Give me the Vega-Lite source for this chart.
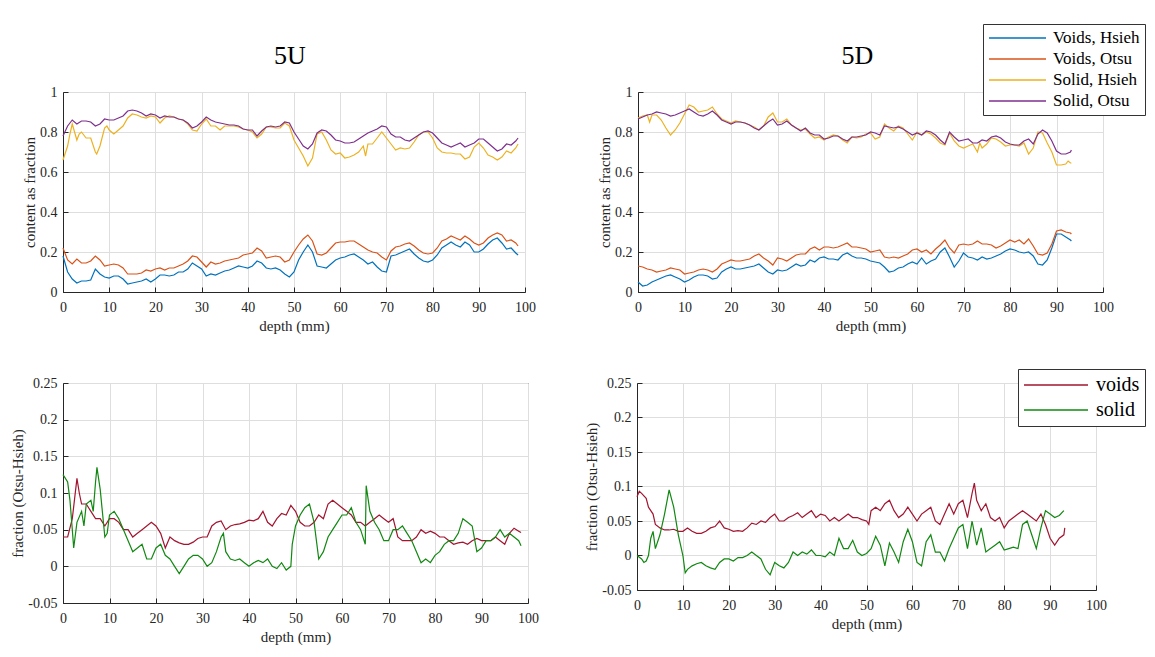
{
  "$schema": "https://vega.github.io/schema/vega-lite/v6.json",
  "background": "white",
  "padding": {"left": 10, "top": 23, "right": 5, "bottom": 5},
  "datasets": {
    "tl": [
      {"d":0,"Voids, Hsieh":0.18,"Voids, Otsu":0.22,"Solid, Hsieh":0.66,"Solid, Otsu":0.78},
      {"d":1,"Voids, Hsieh":0.10,"Voids, Otsu":0.16,"Solid, Hsieh":0.73,"Solid, Otsu":0.83},
      {"d":1.5,"Solid, Hsieh":0.79},
      {"d":2,"Voids, Hsieh":0.065,"Voids, Otsu":0.14,"Solid, Hsieh":0.84,"Solid, Otsu":0.86},
      {"d":2.5,"Solid, Hsieh":0.80},
      {"d":3,"Voids, Hsieh":0.045,"Voids, Otsu":0.165,"Solid, Hsieh":0.76,"Solid, Otsu":0.84},
      {"d":3.5,"Solid, Hsieh":0.79},
      {"d":4,"Voids, Hsieh":0.055,"Voids, Otsu":0.145,"Solid, Hsieh":0.80,"Solid, Otsu":0.855},
      {"d":5,"Voids, Hsieh":0.055,"Voids, Otsu":0.145,"Solid, Hsieh":0.77,"Solid, Otsu":0.855},
      {"d":6,"Voids, Hsieh":0.06,"Voids, Otsu":0.155,"Solid, Hsieh":0.77,"Solid, Otsu":0.85},
      {"d":7,"Voids, Hsieh":0.115,"Voids, Otsu":0.18,"Solid, Hsieh":0.70,"Solid, Otsu":0.83},
      {"d":7.3,"Solid, Hsieh":0.69},
      {"d":8,"Voids, Hsieh":0.09,"Voids, Otsu":0.16,"Solid, Hsieh":0.73,"Solid, Otsu":0.84},
      {"d":9,"Voids, Hsieh":0.075,"Voids, Otsu":0.13,"Solid, Hsieh":0.82,"Solid, Otsu":0.865},
      {"d":9.5,"Solid, Hsieh":0.83},
      {"d":10,"Voids, Hsieh":0.07,"Voids, Otsu":0.135,"Solid, Hsieh":0.81,"Solid, Otsu":0.86},
      {"d":11,"Voids, Hsieh":0.08,"Voids, Otsu":0.14,"Solid, Hsieh":0.79,"Solid, Otsu":0.86},
      {"d":12,"Voids, Hsieh":0.08,"Voids, Otsu":0.135,"Solid, Hsieh":0.81,"Solid, Otsu":0.87},
      {"d":13,"Voids, Hsieh":0.065,"Voids, Otsu":0.12,"Solid, Hsieh":0.83,"Solid, Otsu":0.88},
      {"d":14,"Voids, Hsieh":0.04,"Voids, Otsu":0.09,"Solid, Hsieh":0.87,"Solid, Otsu":0.905},
      {"d":15,"Voids, Hsieh":0.045,"Voids, Otsu":0.09,"Solid, Hsieh":0.89,"Solid, Otsu":0.91},
      {"d":16,"Voids, Hsieh":0.05,"Voids, Otsu":0.09,"Solid, Hsieh":0.885,"Solid, Otsu":0.905},
      {"d":17,"Voids, Hsieh":0.055,"Voids, Otsu":0.095,"Solid, Hsieh":0.875,"Solid, Otsu":0.895},
      {"d":18,"Voids, Hsieh":0.065,"Voids, Otsu":0.11,"Solid, Hsieh":0.87,"Solid, Otsu":0.88},
      {"d":19,"Voids, Hsieh":0.05,"Voids, Otsu":0.105,"Solid, Hsieh":0.88,"Solid, Otsu":0.89},
      {"d":20,"Voids, Hsieh":0.065,"Voids, Otsu":0.115,"Solid, Hsieh":0.875,"Solid, Otsu":0.885},
      {"d":21,"Voids, Hsieh":0.085,"Voids, Otsu":0.12,"Solid, Hsieh":0.845,"Solid, Otsu":0.87},
      {"d":22,"Voids, Hsieh":0.085,"Voids, Otsu":0.11,"Solid, Hsieh":0.87,"Solid, Otsu":0.88},
      {"d":23,"Voids, Hsieh":0.08,"Voids, Otsu":0.12,"Solid, Hsieh":0.88,"Solid, Otsu":0.875},
      {"d":24,"Voids, Hsieh":0.085,"Voids, Otsu":0.12,"Solid, Hsieh":0.875,"Solid, Otsu":0.875},
      {"d":25,"Voids, Hsieh":0.10,"Voids, Otsu":0.13,"Solid, Hsieh":0.865,"Solid, Otsu":0.865},
      {"d":26,"Voids, Hsieh":0.10,"Voids, Otsu":0.14,"Solid, Hsieh":0.86,"Solid, Otsu":0.86},
      {"d":27,"Voids, Hsieh":0.115,"Voids, Otsu":0.155,"Solid, Hsieh":0.84,"Solid, Otsu":0.845},
      {"d":28,"Voids, Hsieh":0.145,"Voids, Otsu":0.18,"Solid, Hsieh":0.81,"Solid, Otsu":0.82},
      {"d":29,"Voids, Hsieh":0.13,"Voids, Otsu":0.175,"Solid, Hsieh":0.805,"Solid, Otsu":0.83},
      {"d":30,"Voids, Hsieh":0.115,"Voids, Otsu":0.15,"Solid, Hsieh":0.84,"Solid, Otsu":0.85},
      {"d":31,"Voids, Hsieh":0.08,"Voids, Otsu":0.125,"Solid, Hsieh":0.865,"Solid, Otsu":0.875},
      {"d":32,"Voids, Hsieh":0.09,"Voids, Otsu":0.15,"Solid, Hsieh":0.83,"Solid, Otsu":0.86},
      {"d":33,"Voids, Hsieh":0.085,"Voids, Otsu":0.14,"Solid, Hsieh":0.83,"Solid, Otsu":0.85},
      {"d":34,"Voids, Hsieh":0.095,"Voids, Otsu":0.145,"Solid, Hsieh":0.81,"Solid, Otsu":0.845},
      {"d":35,"Voids, Hsieh":0.105,"Voids, Otsu":0.155,"Solid, Hsieh":0.83,"Solid, Otsu":0.84},
      {"d":36,"Voids, Hsieh":0.11,"Voids, Otsu":0.16,"Solid, Hsieh":0.83,"Solid, Otsu":0.835},
      {"d":37,"Voids, Hsieh":0.12,"Voids, Otsu":0.165,"Solid, Hsieh":0.83,"Solid, Otsu":0.835},
      {"d":38,"Voids, Hsieh":0.13,"Voids, Otsu":0.17,"Solid, Hsieh":0.825,"Solid, Otsu":0.83},
      {"d":39,"Voids, Hsieh":0.125,"Voids, Otsu":0.185,"Solid, Hsieh":0.815,"Solid, Otsu":0.815},
      {"d":40,"Voids, Hsieh":0.12,"Voids, Otsu":0.19,"Solid, Hsieh":0.81,"Solid, Otsu":0.81},
      {"d":41,"Voids, Hsieh":0.13,"Voids, Otsu":0.195,"Solid, Hsieh":0.80,"Solid, Otsu":0.81},
      {"d":42,"Voids, Hsieh":0.155,"Voids, Otsu":0.22,"Solid, Hsieh":0.77,"Solid, Otsu":0.78},
      {"d":43,"Voids, Hsieh":0.145,"Voids, Otsu":0.205,"Solid, Hsieh":0.79,"Solid, Otsu":0.805},
      {"d":44,"Voids, Hsieh":0.12,"Voids, Otsu":0.17,"Solid, Hsieh":0.825,"Solid, Otsu":0.825},
      {"d":45,"Voids, Hsieh":0.115,"Voids, Otsu":0.175,"Solid, Hsieh":0.825,"Solid, Otsu":0.83},
      {"d":46,"Voids, Hsieh":0.12,"Voids, Otsu":0.18,"Solid, Hsieh":0.82,"Solid, Otsu":0.825},
      {"d":47,"Voids, Hsieh":0.11,"Voids, Otsu":0.175,"Solid, Hsieh":0.82,"Solid, Otsu":0.83},
      {"d":48,"Voids, Hsieh":0.09,"Voids, Otsu":0.15,"Solid, Hsieh":0.845,"Solid, Otsu":0.85},
      {"d":49,"Voids, Hsieh":0.075,"Voids, Otsu":0.16,"Solid, Hsieh":0.83,"Solid, Otsu":0.845},
      {"d":50,"Voids, Hsieh":0.10,"Voids, Otsu":0.20,"Solid, Hsieh":0.76,"Solid, Otsu":0.80},
      {"d":51,"Voids, Hsieh":0.16,"Voids, Otsu":0.235,"Solid, Hsieh":0.72,"Solid, Otsu":0.765},
      {"d":52,"Voids, Hsieh":0.20,"Voids, Otsu":0.265,"Solid, Hsieh":0.68,"Solid, Otsu":0.73},
      {"d":53,"Voids, Hsieh":0.235,"Voids, Otsu":0.285,"Solid, Hsieh":0.63,"Solid, Otsu":0.715},
      {"d":54,"Voids, Hsieh":0.20,"Voids, Otsu":0.255,"Solid, Hsieh":0.67,"Solid, Otsu":0.74},
      {"d":55,"Voids, Hsieh":0.13,"Voids, Otsu":0.19,"Solid, Hsieh":0.79,"Solid, Otsu":0.795},
      {"d":56,"Voids, Hsieh":0.125,"Voids, Otsu":0.185,"Solid, Hsieh":0.80,"Solid, Otsu":0.81},
      {"d":57,"Voids, Hsieh":0.12,"Voids, Otsu":0.195,"Solid, Hsieh":0.76,"Solid, Otsu":0.805},
      {"d":58,"Voids, Hsieh":0.14,"Voids, Otsu":0.22,"Solid, Hsieh":0.71,"Solid, Otsu":0.785},
      {"d":59,"Voids, Hsieh":0.16,"Voids, Otsu":0.245,"Solid, Hsieh":0.69,"Solid, Otsu":0.76},
      {"d":60,"Voids, Hsieh":0.17,"Voids, Otsu":0.25,"Solid, Hsieh":0.695,"Solid, Otsu":0.755},
      {"d":61,"Voids, Hsieh":0.175,"Voids, Otsu":0.25,"Solid, Hsieh":0.67,"Solid, Otsu":0.745},
      {"d":62,"Voids, Hsieh":0.185,"Voids, Otsu":0.255,"Solid, Hsieh":0.675,"Solid, Otsu":0.745},
      {"d":63,"Voids, Hsieh":0.19,"Voids, Otsu":0.255,"Solid, Hsieh":0.685,"Solid, Otsu":0.75},
      {"d":64,"Voids, Hsieh":0.175,"Voids, Otsu":0.24,"Solid, Hsieh":0.70,"Solid, Otsu":0.765},
      {"d":65,"Voids, Hsieh":0.16,"Voids, Otsu":0.225,"Solid, Hsieh":0.73,"Solid, Otsu":0.78},
      {"d":65.5,"Solid, Hsieh":0.68},
      {"d":66,"Voids, Hsieh":0.14,"Voids, Otsu":0.21,"Solid, Hsieh":0.74,"Solid, Otsu":0.795},
      {"d":67,"Voids, Hsieh":0.15,"Voids, Otsu":0.20,"Solid, Hsieh":0.74,"Solid, Otsu":0.805},
      {"d":68,"Voids, Hsieh":0.125,"Voids, Otsu":0.195,"Solid, Hsieh":0.77,"Solid, Otsu":0.815},
      {"d":69,"Voids, Hsieh":0.105,"Voids, Otsu":0.175,"Solid, Hsieh":0.80,"Solid, Otsu":0.83},
      {"d":70,"Voids, Hsieh":0.10,"Voids, Otsu":0.16,"Solid, Hsieh":0.77,"Solid, Otsu":0.825},
      {"d":71,"Voids, Hsieh":0.18,"Voids, Otsu":0.205,"Solid, Hsieh":0.74,"Solid, Otsu":0.79},
      {"d":72,"Voids, Hsieh":0.185,"Voids, Otsu":0.225,"Solid, Hsieh":0.71,"Solid, Otsu":0.775},
      {"d":73,"Voids, Hsieh":0.195,"Voids, Otsu":0.23,"Solid, Hsieh":0.72,"Solid, Otsu":0.775},
      {"d":74,"Voids, Hsieh":0.205,"Voids, Otsu":0.24,"Solid, Hsieh":0.715,"Solid, Otsu":0.76},
      {"d":75,"Voids, Hsieh":0.215,"Voids, Otsu":0.245,"Solid, Hsieh":0.72,"Solid, Otsu":0.755},
      {"d":76,"Voids, Hsieh":0.19,"Voids, Otsu":0.23,"Solid, Hsieh":0.75,"Solid, Otsu":0.77},
      {"d":77,"Voids, Hsieh":0.17,"Voids, Otsu":0.21,"Solid, Hsieh":0.785,"Solid, Otsu":0.785},
      {"d":78,"Voids, Hsieh":0.155,"Voids, Otsu":0.195,"Solid, Hsieh":0.80,"Solid, Otsu":0.80},
      {"d":79,"Voids, Hsieh":0.15,"Voids, Otsu":0.19,"Solid, Hsieh":0.80,"Solid, Otsu":0.805},
      {"d":80,"Voids, Hsieh":0.16,"Voids, Otsu":0.195,"Solid, Hsieh":0.77,"Solid, Otsu":0.795},
      {"d":81,"Voids, Hsieh":0.185,"Voids, Otsu":0.22,"Solid, Hsieh":0.72,"Solid, Otsu":0.77},
      {"d":82,"Voids, Hsieh":0.22,"Voids, Otsu":0.255,"Solid, Hsieh":0.70,"Solid, Otsu":0.745},
      {"d":83,"Voids, Hsieh":0.235,"Voids, Otsu":0.265,"Solid, Hsieh":0.695,"Solid, Otsu":0.735},
      {"d":84,"Voids, Hsieh":0.25,"Voids, Otsu":0.28,"Solid, Hsieh":0.695,"Solid, Otsu":0.725},
      {"d":85,"Voids, Hsieh":0.235,"Voids, Otsu":0.27,"Solid, Hsieh":0.69,"Solid, Otsu":0.735},
      {"d":86,"Voids, Hsieh":0.225,"Voids, Otsu":0.26,"Solid, Hsieh":0.69,"Solid, Otsu":0.745},
      {"d":87,"Voids, Hsieh":0.25,"Voids, Otsu":0.28,"Solid, Hsieh":0.665,"Solid, Otsu":0.725},
      {"d":88,"Voids, Hsieh":0.235,"Voids, Otsu":0.265,"Solid, Hsieh":0.675,"Solid, Otsu":0.735},
      {"d":89,"Voids, Hsieh":0.20,"Voids, Otsu":0.245,"Solid, Hsieh":0.725,"Solid, Otsu":0.745},
      {"d":90,"Voids, Hsieh":0.20,"Voids, Otsu":0.235,"Solid, Hsieh":0.745,"Solid, Otsu":0.765},
      {"d":91,"Voids, Hsieh":0.215,"Voids, Otsu":0.245,"Solid, Hsieh":0.72,"Solid, Otsu":0.765},
      {"d":92,"Voids, Hsieh":0.24,"Voids, Otsu":0.27,"Solid, Hsieh":0.685,"Solid, Otsu":0.745},
      {"d":93,"Voids, Hsieh":0.26,"Voids, Otsu":0.285,"Solid, Hsieh":0.675,"Solid, Otsu":0.725},
      {"d":94,"Voids, Hsieh":0.27,"Voids, Otsu":0.295,"Solid, Hsieh":0.66,"Solid, Otsu":0.705},
      {"d":95,"Voids, Hsieh":0.245,"Voids, Otsu":0.285,"Solid, Hsieh":0.675,"Solid, Otsu":0.715},
      {"d":96,"Voids, Hsieh":0.215,"Voids, Otsu":0.255,"Solid, Hsieh":0.705,"Solid, Otsu":0.74},
      {"d":97,"Voids, Hsieh":0.22,"Voids, Otsu":0.26,"Solid, Hsieh":0.695,"Solid, Otsu":0.735},
      {"d":98,"Voids, Hsieh":0.195,"Voids, Otsu":0.245,"Solid, Hsieh":0.72,"Solid, Otsu":0.755},
      {"d":98.5,"Voids, Hsieh":0.185,"Voids, Otsu":0.23,"Solid, Hsieh":0.74,"Solid, Otsu":0.77}
    ],
    "tr": [
      {"d":0,"Voids, Hsieh":0.05,"Voids, Otsu":0.13,"Solid, Hsieh":0.87,"Solid, Otsu":0.865},
      {"d":1,"Voids, Hsieh":0.03,"Voids, Otsu":0.125,"Solid, Hsieh":0.88,"Solid, Otsu":0.875},
      {"d":2,"Voids, Hsieh":0.035,"Voids, Otsu":0.115,"Solid, Hsieh":0.885,"Solid, Otsu":0.885},
      {"d":2.5,"Solid, Hsieh":0.85},
      {"d":3,"Voids, Hsieh":0.05,"Voids, Otsu":0.11,"Solid, Hsieh":0.885,"Solid, Otsu":0.89},
      {"d":4,"Voids, Hsieh":0.06,"Voids, Otsu":0.10,"Solid, Hsieh":0.885,"Solid, Otsu":0.90},
      {"d":5,"Voids, Hsieh":0.07,"Voids, Otsu":0.105,"Solid, Hsieh":0.86,"Solid, Otsu":0.895},
      {"d":6,"Voids, Hsieh":0.08,"Voids, Otsu":0.11,"Solid, Hsieh":0.82,"Solid, Otsu":0.89},
      {"d":7,"Voids, Hsieh":0.085,"Voids, Otsu":0.12,"Solid, Hsieh":0.785,"Solid, Otsu":0.88},
      {"d":8,"Voids, Hsieh":0.075,"Voids, Otsu":0.115,"Solid, Hsieh":0.81,"Solid, Otsu":0.885},
      {"d":9,"Voids, Hsieh":0.065,"Voids, Otsu":0.11,"Solid, Hsieh":0.845,"Solid, Otsu":0.895},
      {"d":10,"Voids, Hsieh":0.05,"Voids, Otsu":0.09,"Solid, Hsieh":0.89,"Solid, Otsu":0.905},
      {"d":11,"Voids, Hsieh":0.06,"Voids, Otsu":0.095,"Solid, Hsieh":0.935,"Solid, Otsu":0.915},
      {"d":12,"Voids, Hsieh":0.075,"Voids, Otsu":0.10,"Solid, Hsieh":0.925,"Solid, Otsu":0.90},
      {"d":13,"Voids, Hsieh":0.085,"Voids, Otsu":0.11,"Solid, Hsieh":0.90,"Solid, Otsu":0.885},
      {"d":14,"Voids, Hsieh":0.085,"Voids, Otsu":0.115,"Solid, Hsieh":0.905,"Solid, Otsu":0.88},
      {"d":15,"Voids, Hsieh":0.08,"Voids, Otsu":0.11,"Solid, Hsieh":0.91,"Solid, Otsu":0.89},
      {"d":16,"Voids, Hsieh":0.065,"Voids, Otsu":0.10,"Solid, Hsieh":0.925,"Solid, Otsu":0.905},
      {"d":17,"Voids, Hsieh":0.07,"Voids, Otsu":0.115,"Solid, Hsieh":0.89,"Solid, Otsu":0.885},
      {"d":18,"Voids, Hsieh":0.10,"Voids, Otsu":0.14,"Solid, Hsieh":0.865,"Solid, Otsu":0.86},
      {"d":19,"Voids, Hsieh":0.115,"Voids, Otsu":0.15,"Solid, Hsieh":0.855,"Solid, Otsu":0.85},
      {"d":20,"Voids, Hsieh":0.125,"Voids, Otsu":0.16,"Solid, Hsieh":0.845,"Solid, Otsu":0.84},
      {"d":21,"Voids, Hsieh":0.115,"Voids, Otsu":0.155,"Solid, Hsieh":0.855,"Solid, Otsu":0.85},
      {"d":22,"Voids, Hsieh":0.115,"Voids, Otsu":0.155,"Solid, Hsieh":0.85,"Solid, Otsu":0.85},
      {"d":23,"Voids, Hsieh":0.12,"Voids, Otsu":0.16,"Solid, Hsieh":0.845,"Solid, Otsu":0.845},
      {"d":24,"Voids, Hsieh":0.125,"Voids, Otsu":0.165,"Solid, Hsieh":0.835,"Solid, Otsu":0.835},
      {"d":25,"Voids, Hsieh":0.13,"Voids, Otsu":0.18,"Solid, Hsieh":0.825,"Solid, Otsu":0.82},
      {"d":26,"Voids, Hsieh":0.14,"Voids, Otsu":0.19,"Solid, Hsieh":0.81,"Solid, Otsu":0.81},
      {"d":27,"Voids, Hsieh":0.12,"Voids, Otsu":0.17,"Solid, Hsieh":0.83,"Solid, Otsu":0.83},
      {"d":28,"Voids, Hsieh":0.10,"Voids, Otsu":0.155,"Solid, Hsieh":0.875,"Solid, Otsu":0.85},
      {"d":29,"Voids, Hsieh":0.09,"Voids, Otsu":0.135,"Solid, Hsieh":0.895,"Solid, Otsu":0.865},
      {"d":30,"Voids, Hsieh":0.11,"Voids, Otsu":0.17,"Solid, Hsieh":0.85,"Solid, Otsu":0.835},
      {"d":31,"Voids, Hsieh":0.105,"Voids, Otsu":0.165,"Solid, Hsieh":0.85,"Solid, Otsu":0.84},
      {"d":32,"Voids, Hsieh":0.11,"Voids, Otsu":0.155,"Solid, Hsieh":0.865,"Solid, Otsu":0.855},
      {"d":33,"Voids, Hsieh":0.125,"Voids, Otsu":0.17,"Solid, Hsieh":0.835,"Solid, Otsu":0.835},
      {"d":34,"Voids, Hsieh":0.14,"Voids, Otsu":0.185,"Solid, Hsieh":0.82,"Solid, Otsu":0.82},
      {"d":35,"Voids, Hsieh":0.13,"Voids, Otsu":0.19,"Solid, Hsieh":0.81,"Solid, Otsu":0.805},
      {"d":36,"Voids, Hsieh":0.135,"Voids, Otsu":0.19,"Solid, Hsieh":0.815,"Solid, Otsu":0.82},
      {"d":37,"Voids, Hsieh":0.16,"Voids, Otsu":0.215,"Solid, Hsieh":0.79,"Solid, Otsu":0.795},
      {"d":38,"Voids, Hsieh":0.15,"Voids, Otsu":0.225,"Solid, Hsieh":0.77,"Solid, Otsu":0.785},
      {"d":39,"Voids, Hsieh":0.17,"Voids, Otsu":0.21,"Solid, Hsieh":0.775,"Solid, Otsu":0.785},
      {"d":40,"Voids, Hsieh":0.175,"Voids, Otsu":0.225,"Solid, Hsieh":0.76,"Solid, Otsu":0.765},
      {"d":41,"Voids, Hsieh":0.165,"Voids, Otsu":0.225,"Solid, Hsieh":0.775,"Solid, Otsu":0.77},
      {"d":42,"Voids, Hsieh":0.165,"Voids, Otsu":0.22,"Solid, Hsieh":0.785,"Solid, Otsu":0.78},
      {"d":43,"Voids, Hsieh":0.16,"Voids, Otsu":0.225,"Solid, Hsieh":0.78,"Solid, Otsu":0.78},
      {"d":44,"Voids, Hsieh":0.185,"Voids, Otsu":0.235,"Solid, Hsieh":0.76,"Solid, Otsu":0.765},
      {"d":45,"Voids, Hsieh":0.195,"Voids, Otsu":0.245,"Solid, Hsieh":0.745,"Solid, Otsu":0.755},
      {"d":46,"Voids, Hsieh":0.18,"Voids, Otsu":0.225,"Solid, Hsieh":0.775,"Solid, Otsu":0.775},
      {"d":47,"Voids, Hsieh":0.17,"Voids, Otsu":0.225,"Solid, Hsieh":0.77,"Solid, Otsu":0.775},
      {"d":48,"Voids, Hsieh":0.17,"Voids, Otsu":0.22,"Solid, Hsieh":0.775,"Solid, Otsu":0.78},
      {"d":49,"Voids, Hsieh":0.165,"Voids, Otsu":0.215,"Solid, Hsieh":0.79,"Solid, Otsu":0.785},
      {"d":50,"Voids, Hsieh":0.155,"Voids, Otsu":0.20,"Solid, Hsieh":0.795,"Solid, Otsu":0.80},
      {"d":51,"Voids, Hsieh":0.15,"Voids, Otsu":0.205,"Solid, Hsieh":0.765,"Solid, Otsu":0.795},
      {"d":52,"Voids, Hsieh":0.145,"Voids, Otsu":0.21,"Solid, Hsieh":0.775,"Solid, Otsu":0.785},
      {"d":53,"Voids, Hsieh":0.125,"Voids, Otsu":0.175,"Solid, Hsieh":0.84,"Solid, Otsu":0.83},
      {"d":54,"Voids, Hsieh":0.10,"Voids, Otsu":0.17,"Solid, Hsieh":0.82,"Solid, Otsu":0.825},
      {"d":55,"Voids, Hsieh":0.105,"Voids, Otsu":0.175,"Solid, Hsieh":0.805,"Solid, Otsu":0.82},
      {"d":56,"Voids, Hsieh":0.12,"Voids, Otsu":0.17,"Solid, Hsieh":0.83,"Solid, Otsu":0.825},
      {"d":57,"Voids, Hsieh":0.125,"Voids, Otsu":0.18,"Solid, Hsieh":0.82,"Solid, Otsu":0.815},
      {"d":58,"Voids, Hsieh":0.14,"Voids, Otsu":0.19,"Solid, Hsieh":0.79,"Solid, Otsu":0.80},
      {"d":59,"Voids, Hsieh":0.15,"Voids, Otsu":0.21,"Solid, Hsieh":0.76,"Solid, Otsu":0.785},
      {"d":60,"Voids, Hsieh":0.14,"Voids, Otsu":0.215,"Solid, Hsieh":0.80,"Solid, Otsu":0.795},
      {"d":61,"Voids, Hsieh":0.17,"Voids, Otsu":0.20,"Solid, Hsieh":0.785,"Solid, Otsu":0.785},
      {"d":62,"Voids, Hsieh":0.14,"Voids, Otsu":0.21,"Solid, Hsieh":0.80,"Solid, Otsu":0.805},
      {"d":63,"Voids, Hsieh":0.155,"Voids, Otsu":0.19,"Solid, Hsieh":0.79,"Solid, Otsu":0.80},
      {"d":64,"Voids, Hsieh":0.165,"Voids, Otsu":0.215,"Solid, Hsieh":0.77,"Solid, Otsu":0.785},
      {"d":65,"Voids, Hsieh":0.20,"Voids, Otsu":0.235,"Solid, Hsieh":0.745,"Solid, Otsu":0.76},
      {"d":66,"Voids, Hsieh":0.22,"Voids, Otsu":0.26,"Solid, Hsieh":0.735,"Solid, Otsu":0.74},
      {"d":67,"Voids, Hsieh":0.175,"Voids, Otsu":0.22,"Solid, Hsieh":0.795,"Solid, Otsu":0.80},
      {"d":68,"Voids, Hsieh":0.125,"Voids, Otsu":0.195,"Solid, Hsieh":0.755,"Solid, Otsu":0.775},
      {"d":69,"Voids, Hsieh":0.155,"Voids, Otsu":0.235,"Solid, Hsieh":0.73,"Solid, Otsu":0.755},
      {"d":70,"Voids, Hsieh":0.195,"Voids, Otsu":0.24,"Solid, Hsieh":0.72,"Solid, Otsu":0.76},
      {"d":71,"Voids, Hsieh":0.175,"Voids, Otsu":0.235,"Solid, Hsieh":0.73,"Solid, Otsu":0.765},
      {"d":72,"Voids, Hsieh":0.17,"Voids, Otsu":0.24,"Solid, Hsieh":0.74,"Solid, Otsu":0.745},
      {"d":73,"Voids, Hsieh":0.16,"Voids, Otsu":0.255,"Solid, Hsieh":0.70,"Solid, Otsu":0.745},
      {"d":73.5,"Solid, Hsieh":0.745},
      {"d":74,"Voids, Hsieh":0.175,"Voids, Otsu":0.24,"Solid, Hsieh":0.72,"Solid, Otsu":0.76},
      {"d":75,"Voids, Hsieh":0.165,"Voids, Otsu":0.24,"Solid, Hsieh":0.74,"Solid, Otsu":0.755},
      {"d":76,"Voids, Hsieh":0.17,"Voids, Otsu":0.235,"Solid, Hsieh":0.77,"Solid, Otsu":0.775},
      {"d":77,"Voids, Hsieh":0.18,"Voids, Otsu":0.22,"Solid, Hsieh":0.765,"Solid, Otsu":0.78},
      {"d":78,"Voids, Hsieh":0.19,"Voids, Otsu":0.23,"Solid, Hsieh":0.75,"Solid, Otsu":0.77},
      {"d":79,"Voids, Hsieh":0.205,"Voids, Otsu":0.245,"Solid, Hsieh":0.73,"Solid, Otsu":0.75},
      {"d":80,"Voids, Hsieh":0.215,"Voids, Otsu":0.26,"Solid, Hsieh":0.735,"Solid, Otsu":0.74},
      {"d":81,"Voids, Hsieh":0.21,"Voids, Otsu":0.25,"Solid, Hsieh":0.735,"Solid, Otsu":0.735},
      {"d":82,"Voids, Hsieh":0.20,"Voids, Otsu":0.26,"Solid, Hsieh":0.73,"Solid, Otsu":0.735},
      {"d":83,"Voids, Hsieh":0.195,"Voids, Otsu":0.24,"Solid, Hsieh":0.745,"Solid, Otsu":0.755},
      {"d":84,"Voids, Hsieh":0.20,"Voids, Otsu":0.265,"Solid, Hsieh":0.69,"Solid, Otsu":0.765},
      {"d":85,"Voids, Hsieh":0.18,"Voids, Otsu":0.23,"Solid, Hsieh":0.72,"Solid, Otsu":0.74},
      {"d":86,"Voids, Hsieh":0.14,"Voids, Otsu":0.19,"Solid, Hsieh":0.80,"Solid, Otsu":0.79},
      {"d":87,"Voids, Hsieh":0.135,"Voids, Otsu":0.185,"Solid, Hsieh":0.795,"Solid, Otsu":0.81},
      {"d":88,"Voids, Hsieh":0.16,"Voids, Otsu":0.195,"Solid, Hsieh":0.745,"Solid, Otsu":0.795},
      {"d":89,"Voids, Hsieh":0.22,"Voids, Otsu":0.24,"Solid, Hsieh":0.70,"Solid, Otsu":0.755},
      {"d":90,"Voids, Hsieh":0.29,"Voids, Otsu":0.305,"Solid, Hsieh":0.635,"Solid, Otsu":0.705},
      {"d":91,"Voids, Hsieh":0.29,"Voids, Otsu":0.31,"Solid, Hsieh":0.635,"Solid, Otsu":0.69},
      {"d":92,"Voids, Hsieh":0.275,"Voids, Otsu":0.30,"Solid, Hsieh":0.64,"Solid, Otsu":0.69},
      {"d":92.5,"Solid, Hsieh":0.655},
      {"d":93,"Voids, Hsieh":0.26,"Voids, Otsu":0.295,"Solid, Hsieh":0.645,"Solid, Otsu":0.70},
      {"d":93.2,"Voids, Hsieh":0.255,"Voids, Otsu":0.29,"Solid, Hsieh":0.645,"Solid, Otsu":0.71}
    ],
    "bl": [
      {"d":0,"voids":0.04,"solid":0.125},
      {"d":1,"voids":0.04,"solid":0.115},
      {"d":1.5,"solid":0.09},
      {"d":2,"voids":0.065,"solid":0.05},
      {"d":2.3,"solid":0.025},
      {"d":3,"voids":0.12,"solid":0.06},
      {"d":3.5,"voids":0.10},
      {"d":4,"voids":0.085,"solid":0.075},
      {"d":4.5,"solid":0.055},
      {"d":5,"voids":0.085,"solid":0.085},
      {"d":6,"voids":0.075,"solid":0.09},
      {"d":6.5,"solid":0.075},
      {"d":7,"voids":0.065,"solid":0.115},
      {"d":7.3,"solid":0.135},
      {"d":8,"voids":0.065,"solid":0.105},
      {"d":9,"voids":0.055,"solid":0.04},
      {"d":9.5,"solid":0.045},
      {"d":10,"voids":0.065,"solid":0.07},
      {"d":11,"voids":0.065,"solid":0.075},
      {"d":12,"voids":0.06,"solid":0.065},
      {"d":13,"voids":0.05,"solid":0.05},
      {"d":14,"voids":0.05,"solid":0.035},
      {"d":15,"voids":0.04,"solid":0.02},
      {"d":16,"voids":0.045,"solid":0.025},
      {"d":17,"voids":0.05,"solid":0.03},
      {"d":18,"voids":0.055,"solid":0.01},
      {"d":19,"voids":0.06,"solid":0.01},
      {"d":20,"voids":0.055,"solid":0.025},
      {"d":21,"voids":0.045,"solid":0.03},
      {"d":22,"voids":0.025,"solid":0.015},
      {"d":23,"voids":0.04,"solid":0.01},
      {"d":24,"voids":0.035,"solid":0.0},
      {"d":25,"voids":0.032,"solid":-0.01},
      {"d":26,"voids":0.03,"solid":0.0},
      {"d":27,"voids":0.03,"solid":0.01},
      {"d":28,"voids":0.033,"solid":0.015},
      {"d":29,"voids":0.038,"solid":0.015},
      {"d":30,"voids":0.04,"solid":0.01},
      {"d":31,"voids":0.04,"solid":0.0},
      {"d":32,"voids":0.055,"solid":0.005},
      {"d":33,"voids":0.06,"solid":0.02},
      {"d":34,"voids":0.062,"solid":0.04},
      {"d":34.5,"solid":0.045},
      {"d":35,"voids":0.05,"solid":0.02},
      {"d":36,"voids":0.055,"solid":0.01},
      {"d":37,"voids":0.057,"solid":0.008},
      {"d":38,"voids":0.058,"solid":0.01},
      {"d":39,"voids":0.06,"solid":0.005},
      {"d":40,"voids":0.063,"solid":0.0},
      {"d":41,"voids":0.062,"solid":0.005},
      {"d":42,"voids":0.065,"solid":0.008},
      {"d":43,"voids":0.075,"solid":0.005},
      {"d":44,"voids":0.06,"solid":0.01},
      {"d":45,"voids":0.055,"solid":0.0},
      {"d":46,"voids":0.065,"solid":-0.003},
      {"d":47,"voids":0.072,"solid":0.005},
      {"d":48,"voids":0.07,"solid":-0.005},
      {"d":49,"voids":0.083,"solid":0.0},
      {"d":49.3,"solid":0.03},
      {"d":50,"voids":0.075,"solid":0.055},
      {"d":51,"voids":0.06,"solid":0.07},
      {"d":52,"voids":0.055,"solid":0.08},
      {"d":53,"voids":0.055,"solid":0.085},
      {"d":54,"voids":0.06,"solid":0.06},
      {"d":55,"voids":0.07,"solid":0.01},
      {"d":56,"voids":0.065,"solid":0.02},
      {"d":57,"voids":0.085,"solid":0.04},
      {"d":58,"voids":0.09,"solid":0.05},
      {"d":59,"voids":0.085,"solid":0.06},
      {"d":60,"voids":0.08,"solid":0.07},
      {"d":61,"voids":0.075,"solid":0.07},
      {"d":62,"voids":0.07,"solid":0.08},
      {"d":63,"voids":0.06,"solid":0.06},
      {"d":64,"voids":0.06,"solid":0.05},
      {"d":65,"voids":0.055,"solid":0.03},
      {"d":65.2,"solid":0.11},
      {"d":66,"voids":0.06,"solid":0.075},
      {"d":67,"voids":0.065,"solid":0.06},
      {"d":68,"voids":0.07,"solid":0.05},
      {"d":69,"voids":0.065,"solid":0.035},
      {"d":70,"voids":0.06,"solid":0.035},
      {"d":71,"voids":0.065,"solid":0.05},
      {"d":72,"voids":0.04,"solid":0.05},
      {"d":73,"voids":0.035,"solid":0.055},
      {"d":74,"voids":0.035,"solid":0.045},
      {"d":75,"voids":0.035,"solid":0.035},
      {"d":76,"voids":0.04,"solid":0.02},
      {"d":77,"voids":0.05,"solid":0.005},
      {"d":78,"voids":0.045,"solid":0.01},
      {"d":79,"voids":0.048,"solid":0.005},
      {"d":80,"voids":0.045,"solid":0.015},
      {"d":81,"voids":0.04,"solid":0.02},
      {"d":82,"voids":0.04,"solid":0.03},
      {"d":83,"voids":0.035,"solid":0.035},
      {"d":84,"voids":0.03,"solid":0.035},
      {"d":85,"voids":0.032,"solid":0.045},
      {"d":86,"voids":0.033,"solid":0.065},
      {"d":87,"voids":0.03,"solid":0.06},
      {"d":88,"voids":0.035,"solid":0.055},
      {"d":89,"voids":0.038,"solid":0.02},
      {"d":90,"voids":0.035,"solid":0.025},
      {"d":91,"voids":0.035,"solid":0.035},
      {"d":92,"voids":0.035,"solid":0.035},
      {"d":93,"voids":0.04,"solid":0.04},
      {"d":94,"voids":0.035,"solid":0.05},
      {"d":95,"voids":0.03,"solid":0.04},
      {"d":96,"voids":0.045,"solid":0.045},
      {"d":97,"voids":0.052,"solid":0.04},
      {"d":98,"voids":0.048,"solid":0.035},
      {"d":98.5,"voids":0.046,"solid":0.028}
    ],
    "br": [
      {"d":0,"voids":0.085,"solid":0.0},
      {"d":0.5,"voids":0.093},
      {"d":1,"voids":0.09,"solid":-0.005},
      {"d":1.5,"solid":-0.01},
      {"d":2,"voids":0.083,"solid":-0.008},
      {"d":2.5,"voids":0.07,"solid":0.0},
      {"d":3,"voids":0.065,"solid":0.025},
      {"d":3.5,"voids":0.06,"solid":0.035},
      {"d":4,"voids":0.045,"solid":0.01},
      {"d":5,"voids":0.04,"solid":0.03},
      {"d":6,"voids":0.037,"solid":0.06},
      {"d":7,"voids":0.037,"solid":0.095},
      {"d":8,"voids":0.038,"solid":0.07},
      {"d":9,"voids":0.035,"solid":0.03},
      {"d":10,"voids":0.035,"solid":0.0},
      {"d":10.5,"solid":-0.025},
      {"d":11,"voids":0.04,"solid":-0.02},
      {"d":12,"voids":0.035,"solid":-0.015},
      {"d":13,"voids":0.032,"solid":-0.012},
      {"d":14,"voids":0.032,"solid":-0.01},
      {"d":15,"voids":0.035,"solid":-0.015},
      {"d":16,"voids":0.04,"solid":-0.018},
      {"d":17,"voids":0.042,"solid":-0.02},
      {"d":18,"voids":0.05,"solid":-0.01},
      {"d":19,"voids":0.04,"solid":-0.005},
      {"d":20,"voids":0.038,"solid":-0.005},
      {"d":21,"voids":0.035,"solid":-0.008},
      {"d":22,"voids":0.036,"solid":-0.003},
      {"d":23,"voids":0.035,"solid":-0.003},
      {"d":24,"voids":0.04,"solid":0.0},
      {"d":25,"voids":0.047,"solid":0.005},
      {"d":26,"voids":0.045,"solid":0.0},
      {"d":27,"voids":0.05,"solid":-0.005},
      {"d":28,"voids":0.048,"solid":-0.02},
      {"d":29,"voids":0.055,"solid":-0.028},
      {"d":30,"voids":0.06,"solid":-0.01},
      {"d":31,"voids":0.05,"solid":-0.015},
      {"d":32,"voids":0.05,"solid":-0.018},
      {"d":33,"voids":0.055,"solid":-0.01},
      {"d":34,"voids":0.058,"solid":0.005},
      {"d":35,"voids":0.062,"solid":0.0},
      {"d":36,"voids":0.055,"solid":0.005},
      {"d":37,"voids":0.06,"solid":0.002},
      {"d":38,"voids":0.065,"solid":0.008},
      {"d":39,"voids":0.055,"solid":0.0},
      {"d":40,"voids":0.06,"solid":0.0},
      {"d":41,"voids":0.058,"solid":-0.002},
      {"d":42,"voids":0.05,"solid":0.005},
      {"d":43,"voids":0.055,"solid":0.0},
      {"d":44,"voids":0.05,"solid":0.025},
      {"d":45,"voids":0.055,"solid":0.01},
      {"d":46,"voids":0.06,"solid":0.01},
      {"d":47,"voids":0.055,"solid":0.022},
      {"d":48,"voids":0.055,"solid":0.005},
      {"d":49,"voids":0.052,"solid":0.0},
      {"d":50,"voids":0.05,"solid":0.003},
      {"d":50.5,"voids":0.045},
      {"d":51,"voids":0.065,"solid":0.01},
      {"d":52,"voids":0.07,"solid":0.028},
      {"d":53,"voids":0.065,"solid":0.015},
      {"d":54,"voids":0.075,"solid":-0.015},
      {"d":55,"voids":0.08,"solid":0.018},
      {"d":56,"voids":0.065,"solid":0.005},
      {"d":57,"voids":0.055,"solid":-0.01},
      {"d":58,"voids":0.06,"solid":0.02},
      {"d":59,"voids":0.07,"solid":0.038},
      {"d":60,"voids":0.06,"solid":0.02},
      {"d":61,"voids":0.05,"solid":-0.01},
      {"d":62,"voids":0.06,"solid":-0.015},
      {"d":63,"voids":0.065,"solid":0.02},
      {"d":64,"voids":0.07,"solid":0.03},
      {"d":65,"voids":0.05,"solid":0.005},
      {"d":66,"voids":0.045,"solid":0.005},
      {"d":67,"voids":0.06,"solid":-0.008},
      {"d":68,"voids":0.075,"solid":0.01},
      {"d":69,"voids":0.06,"solid":0.025},
      {"d":70,"voids":0.075,"solid":0.04},
      {"d":71,"voids":0.08,"solid":0.045},
      {"d":72,"voids":0.055,"solid":0.01},
      {"d":73,"voids":0.09,"solid":0.05},
      {"d":73.5,"voids":0.105},
      {"d":74,"voids":0.08,"solid":0.015},
      {"d":75,"voids":0.065,"solid":0.04},
      {"d":76,"voids":0.075,"solid":0.005},
      {"d":77,"voids":0.055,"solid":0.01},
      {"d":78,"voids":0.05,"solid":0.015},
      {"d":79,"voids":0.055,"solid":0.02},
      {"d":80,"voids":0.04,"solid":0.008},
      {"d":81,"voids":0.05,"solid":0.01},
      {"d":82,"voids":0.055,"solid":0.012},
      {"d":83,"voids":0.06,"solid":0.01},
      {"d":84,"voids":0.065,"solid":0.045},
      {"d":85,"voids":0.06,"solid":0.05},
      {"d":86,"voids":0.055,"solid":0.03},
      {"d":87,"voids":0.05,"solid":0.01},
      {"d":88,"voids":0.06,"solid":0.04},
      {"d":89,"voids":0.045,"solid":0.065},
      {"d":90,"voids":0.025,"solid":0.06},
      {"d":91,"voids":0.015,"solid":0.055},
      {"d":92,"voids":0.025,"solid":0.058},
      {"d":93,"voids":0.03,"solid":0.065},
      {"d":93.2,"voids":0.04}
    ]
  },
  "vconcat": [
    {
      "hconcat": [
        {
          "width": 462, "height": 200,
          "title": {"text": "5U", "dx": -4},
          "data": {"name": "tl"},
          "transform": [{"fold": ["Voids, Hsieh","Voids, Otsu","Solid, Hsieh","Solid, Otsu"], "as": ["s","v"]}, {"filter": "isValid(datum.v)"}],
          "mark": {"type": "line", "strokeWidth": 1.2},
          "encoding": {
            "x": {"field": "d", "type": "quantitative", "scale": {"domain": [0,100], "nice": false}, "axis": {"title": "depth (mm)", "values": [0,10,20,30,40,50,60,70,80,90,100]}},
            "y": {"field": "v", "type": "quantitative", "scale": {"domain": [0,1], "nice": false}, "axis": {"title": "content as fraction", "values": [0,0.2,0.4,0.6,0.8,1]}},
            "color": {"field": "s", "type": "nominal", "scale": {"domain": ["Voids, Hsieh","Voids, Otsu","Solid, Hsieh","Solid, Otsu"], "range": ["#0072BD","#D95319","#EDB120","#7E2F8E"]},
              "legend": {"orient": "none", "legendX": 920, "legendY": -68, "title": null, "symbolType": "stroke", "symbolSize": 3249, "symbolStrokeWidth": 1.5, "clipHeight": 18, "rowPadding": 3, "labelFontSize": 17, "labelFont": "Liberation Serif", "labelColor": "black", "strokeColor": "#333333", "fillColor": "white", "padding": 5, "labelOffset": 6}}
          }
        },
        {
          "width": 465, "height": 200,
          "title": {"text": "5D", "dx": -13},
          "data": {"name": "tr"},
          "transform": [{"fold": ["Voids, Hsieh","Voids, Otsu","Solid, Hsieh","Solid, Otsu"], "as": ["s","v"]}, {"filter": "isValid(datum.v)"}],
          "mark": {"type": "line", "strokeWidth": 1.2},
          "encoding": {
            "x": {"field": "d", "type": "quantitative", "scale": {"domain": [0,100], "nice": false}, "axis": {"title": "depth (mm)", "values": [0,10,20,30,40,50,60,70,80,90,100]}},
            "y": {"field": "v", "type": "quantitative", "scale": {"domain": [0,1], "nice": false}, "axis": {"title": "content as fraction", "values": [0,0.2,0.4,0.6,0.8,1]}},
            "color": {"field": "s", "type": "nominal", "scale": {"domain": ["Voids, Hsieh","Voids, Otsu","Solid, Hsieh","Solid, Otsu"], "range": ["#0072BD","#D95319","#EDB120","#7E2F8E"]}}
          }
        }
      ],
      "spacing": 61,
      "resolve": {"scale": {"color": "shared", "x": "independent", "y": "independent"}, "legend": {"color": "shared"}}
    },
    {
      "hconcat": [
        {
          "width": 465, "height": 220,
          "data": {"name": "bl"},
          "transform": [{"fold": ["voids","solid"], "as": ["s","v"]}, {"filter": "isValid(datum.v)"}],
          "mark": {"type": "line", "strokeWidth": 1.2},
          "encoding": {
            "x": {"field": "d", "type": "quantitative", "scale": {"domain": [0,100], "nice": false}, "axis": {"title": "depth (mm)", "values": [0,10,20,30,40,50,60,70,80,90,100]}},
            "y": {"field": "v", "type": "quantitative", "scale": {"domain": [-0.05,0.25], "nice": false}, "axis": {"title": "fraction (Otsu-Hsieh)", "values": [-0.05,0,0.05,0.1,0.15,0.2,0.25]}},
            "color": {"field": "s", "type": "nominal", "scale": {"domain": ["voids","solid"], "range": ["#A2142F","#118811"]},
              "legend": {"orient": "none", "legendX": 955, "legendY": -14, "title": null, "symbolType": "stroke", "symbolSize": 4096, "symbolStrokeWidth": 1.5, "clipHeight": 22, "rowPadding": 3, "labelFontSize": 20, "labelFont": "Liberation Serif", "labelColor": "black", "strokeColor": "#333333", "fillColor": "white", "padding": 5, "labelOffset": 7}}
          }
        },
        {
          "width": 459, "height": 207,
          "data": {"name": "br"},
          "transform": [{"fold": ["voids","solid"], "as": ["s","v"]}, {"filter": "isValid(datum.v)"}],
          "mark": {"type": "line", "strokeWidth": 1.2},
          "encoding": {
            "x": {"field": "d", "type": "quantitative", "scale": {"domain": [0,100], "nice": false}, "axis": {"title": "depth (mm)", "values": [0,10,20,30,40,50,60,70,80,90,100]}},
            "y": {"field": "v", "type": "quantitative", "scale": {"domain": [-0.05,0.25], "nice": false}, "axis": {"title": "fraction (Otsu-Hsieh)", "values": [-0.05,0,0.05,0.1,0.15,0.2,0.25]}},
            "color": {"field": "s", "type": "nominal", "scale": {"domain": ["voids","solid"], "range": ["#A2142F","#118811"]}}
          }
        }
      ],
      "spacing": 45,
      "resolve": {"scale": {"color": "shared", "x": "independent", "y": "independent"}, "legend": {"color": "shared"}}
    }
  ],
  "spacing": 34,
  "resolve": {"scale": {"color": "independent", "x": "independent", "y": "independent"}, "legend": {"color": "independent"}},
  "config": {
    "font": "Liberation Serif",
    "view": {"stroke": "#262626", "strokeWidth": 1},
    "title": {"font": "Liberation Serif", "fontSize": 26, "fontWeight": "normal", "color": "black", "offset": 16, "anchor": "middle"},
    "axis": {
      "labelFont": "Liberation Serif", "titleFont": "Liberation Serif",
      "labelFontSize": 14, "titleFontSize": 15, "titleFontWeight": "normal",
      "labelColor": "#262626", "titleColor": "#262626",
      "domainColor": "#262626", "tickColor": "#262626",
      "gridColor": "#dedede", "gridOpacity": 1,
      "tickSize": -5, "labelPadding": 13,
      "labelExpr": "'' + datum.value",
      "labelFlush": false
    },
    "axisY": {"titlePadding": 2, "labelPadding": 11},
    "axisX": {"titlePadding": 4}
  }
}
